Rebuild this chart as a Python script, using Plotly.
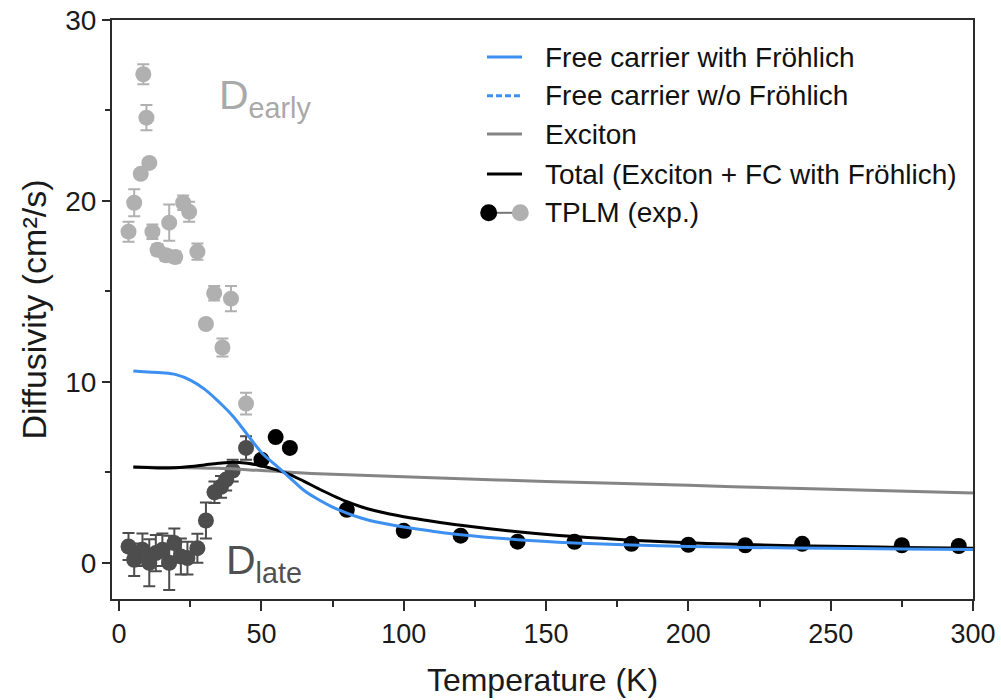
import plotly.graph_objects as go

# ---------------- data ----------------
# D_early (light gray, with error bars)
early_T = [3.3, 5.3, 7.6, 8.5, 9.6, 10.6, 11.7, 13.5, 16.4, 17.6, 19.7, 22.5, 24.6, 27.5, 30.5, 33.4, 36.3, 39.3, 44.6]
early_D = [18.3, 19.9, 21.5, 27.0, 24.6, 22.1, 18.3, 17.3, 17.0, 18.8, 16.9, 19.9, 19.4, 17.2, 13.2, 14.9, 11.9, 14.6, 8.8]
early_err = [0.55, 0.75, 0.2, 0.55, 0.7, 0.2, 0.4, 0.3, 0.3, 1.0, 0.3, 0.4, 0.55, 0.45, 0.1, 0.4, 0.5, 0.7, 0.6]

# D_late (dark gray, with error bars)
late_T = [3.3, 5.3, 8.2, 10.6, 12.9, 15.2, 17.6, 19.4, 21.7, 24.0, 27.5, 30.5, 33.5, 35.8, 37.6, 39.9, 44.6]
late_D = [0.9, 0.17, 0.72, 0.0, 0.54, 0.72, 0.0, 1.09, 0.35, 0.26, 0.81, 2.34, 3.9, 4.2, 4.6, 5.1, 6.35]
late_err = [0.75, 0.9, 0.9, 1.3, 1.0, 0.9, 1.5, 0.8, 1.0, 0.9, 0.8, 1.0, 0.6, 0.6, 0.6, 0.6, 0.65]

# TPLM high-temperature points (black)
hiT_T = [50, 55, 60, 80, 100, 120, 140, 160, 180, 200, 220, 240, 275, 295]
hiT_D = [5.7, 6.95, 6.35, 2.93, 1.77, 1.5, 1.17, 1.16, 1.05, 1.0, 0.97, 1.05, 0.97, 0.93]

# model curves
fc_T = [5, 10, 15, 20, 25, 30, 35, 40, 45, 50, 55, 60, 65, 70, 75, 80, 85, 90, 100, 110, 120, 140, 160, 180, 200, 220, 250, 275, 300]
fc_with = [10.6, 10.55, 10.5, 10.4, 10.1, 9.6, 8.9, 8.1, 7.1, 6.1, 5.4, 4.7, 4.0, 3.5, 3.08, 2.75, 2.48, 2.27, 1.98, 1.75, 1.55, 1.28, 1.1, 0.98, 0.9, 0.85, 0.8, 0.76, 0.73]
total_T = [5, 10, 15, 20, 25, 30, 35, 40, 45, 50, 55, 60, 65, 70, 75, 80, 85, 90, 95, 100, 110, 120, 140, 160, 180, 200, 220, 250, 275, 300]
total = [5.3, 5.27, 5.24, 5.26, 5.32, 5.41, 5.5, 5.56, 5.5, 5.36, 5.15, 4.88, 4.5, 4.1, 3.72, 3.38, 3.1, 2.88, 2.7, 2.55, 2.3, 2.08, 1.72, 1.45, 1.25, 1.11, 1.01, 0.91, 0.85, 0.8]
exc_T = [5, 20, 35, 50, 70, 100, 150, 200, 250, 300]
exciton = [5.28, 5.27, 5.22, 5.1, 4.92, 4.75, 4.5, 4.28, 4.06, 3.86]

legend_labels = ["Free carrier with Fröhlich", "Free carrier w/o Fröhlich", "Exciton",
                 "Total (Exciton + FC with Fröhlich)", "TPLM (exp.)"]

# ---------------- style ----------------
EARLY = "#b0b0b0"
LATE = "#4d4d4d"
BLUE = "#3d8ff0"
GRAYLINE = "#858585"
AX = "#2b2b2b"
FONT = "Liberation Sans, Arial, sans-serif"

fig = go.Figure()

fig.add_trace(go.Scatter(
    x=early_T, y=early_D, mode="markers",
    marker=dict(size=16, color=EARLY),
    error_y=dict(type="data", array=early_err, color=EARLY, thickness=2, width=6),
    showlegend=False))

fig.add_trace(go.Scatter(
    x=late_T, y=late_D, mode="markers",
    marker=dict(size=16, color=LATE),
    error_y=dict(type="data", array=late_err, color=LATE, thickness=2, width=6),
    showlegend=False))

fig.add_trace(go.Scatter(
    x=hiT_T, y=hiT_D, mode="markers",
    marker=dict(size=16, color="black"),
    showlegend=False))

fig.add_trace(go.Scatter(
    x=exc_T, y=exciton, mode="lines",
    line=dict(color=GRAYLINE, width=3, shape="spline"), showlegend=False))

fig.add_trace(go.Scatter(
    x=total_T, y=total, mode="lines",
    line=dict(color="black", width=3, shape="spline"), showlegend=False))

fig.add_trace(go.Scatter(
    x=fc_T, y=fc_with, mode="lines",
    line=dict(color=BLUE, width=3, shape="spline"), showlegend=False))

# ---------------- manual legend ----------------
row_y = [0.936, 0.869, 0.803, 0.734, 0.667]
lx0, lx1, tx = 0.4355, 0.4762, 0.5
line_styles = [(BLUE, "solid"), (BLUE, "6px,3px"), (GRAYLINE, "solid"), ("black", "solid")]
shapes = []
for (col, dash), yy in zip(line_styles, row_y[:4]):
    shapes.append(dict(type="line", xref="paper", yref="paper", x0=lx0, x1=lx1, y0=yy, y1=yy,
                       line=dict(color=col, width=3, dash=dash)))
# TPLM symbol: black dot - gray line - gray dot
yy = row_y[4]
shapes.append(dict(type="line", xref="paper", yref="paper", x0=lx0 + 0.008, x1=lx1 - 0.008,
                   y0=yy, y1=yy, line=dict(color="#777777", width=2)))
for xc, col in [(lx0 + 0.002, "black"), (lx1 - 0.002, EARLY)]:
    shapes.append(dict(type="circle", xref="paper", yref="paper", xsizemode="pixel", ysizemode="pixel",
                       xanchor=xc, yanchor=yy, x0=-8.5, x1=8.5, y0=-8.5, y1=8.5,
                       fillcolor=col, line=dict(width=0)))

annotations = []
for lab, yy in zip(legend_labels, row_y):
    annotations.append(dict(text=lab, xref="paper", yref="paper", x=tx, y=yy, xanchor="left",
                            yanchor="middle", showarrow=False,
                            font=dict(family=FONT, size=28, color="#111111")))

annotations.append(dict(text="D<sub>early</sub>", x=34.3, y=25.7, xref="x", yref="y",
                        xanchor="left", yanchor="middle", showarrow=False,
                        font=dict(family=FONT, size=41, color="#a9a9a9")))
annotations.append(dict(text="D<sub>late</sub>", x=36.8, y=0.0, xref="x", yref="y",
                        xanchor="left", yanchor="middle", showarrow=False,
                        font=dict(family=FONT, size=41, color="#505050")))

fig.update_layout(
    width=1001, height=700,
    margin=dict(l=112, r=28, t=20, b=101),
    paper_bgcolor="white", plot_bgcolor="white",
    font=dict(family=FONT, color="#1a1a1a"),
    shapes=shapes, annotations=annotations,
    showlegend=False,
    xaxis=dict(range=[-2.5, 300], tick0=0, dtick=50, showgrid=False, zeroline=False,
               automargin=False,
               showline=True, linecolor=AX, linewidth=2, mirror=True,
               ticks="outside", ticklen=10, tickwidth=2, tickcolor=AX,
               minor=dict(ticks="outside", dtick=25, ticklen=6, tickwidth=2, tickcolor=AX),
               tickfont=dict(size=27, family=FONT, color="#1a1a1a"),
               title=dict(text="Temperature (K)", font=dict(size=32, family=FONT, color="#1a1a1a"),
                          standoff=20)),
    yaxis=dict(range=[-2, 30], tick0=0, dtick=10, showgrid=False, zeroline=False,
               automargin=False,
               showline=True, linecolor=AX, linewidth=2, mirror=True,
               ticks="outside", ticklen=8, tickwidth=2, tickcolor=AX,
               minor=dict(ticks="outside", dtick=5, ticklen=5, tickwidth=2, tickcolor=AX),
               tickfont=dict(size=28, family=FONT, color="#1a1a1a"),
               title=dict(text="Diffusivity (cm²/s)", font=dict(size=34, family=FONT, color="#1a1a1a"),
                          standoff=8)),
)

fig.write_html("out.html")
